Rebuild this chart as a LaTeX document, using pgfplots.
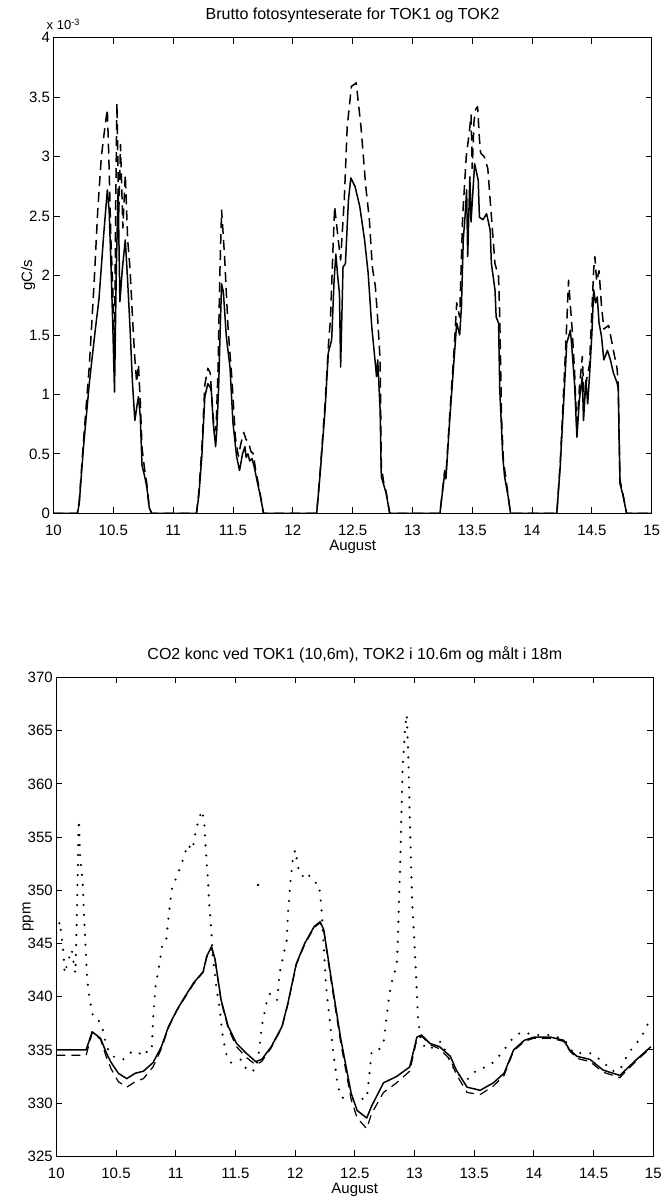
\documentclass[border=0pt]{standalone}
\usepackage{fontspec}
\setmainfont{Liberation Sans}
\usepackage{pgfplots}
\pgfplotsset{compat=1.18}
\begin{document}
\begin{tikzpicture}[x=1pt,y=1pt]
\path[use as bounding box] (0,0) rectangle (662,1197);
\pgfplotsset{
  myaxis/.style={
    scale only axis,
    anchor=south west,
    xmin=10, xmax=15,
    xtick={10,10.5,11,11.5,12,12.5,13,13.5,14,14.5,15},
    tick align=inside,
    major tick length=6pt,
    axis line style={line width=1pt},
    every tick/.style={black, line width=0.8pt},
    /pgf/number format/assume math mode=true,
    tick label style={font=\fontsize{15}{17}\selectfont},
    xticklabel style={anchor=base, yshift=-22.3pt},
    label style={font=\fontsize{15}{17}\selectfont},
    title style={font=\fontsize{16}{18}\selectfont, at={(0.5,1)}, anchor=base, yshift=12pt},
    xlabel style={at={(0.5,0)}, anchor=base, yshift=-37.5pt},
    xlabel={August},
    every axis plot/.append style={black, line join=round},
  }
}
% ---------------- top axis ----------------
\begin{axis}[myaxis, name=top,
  at={(53.5pt,683.7pt)}, width=598.2pt, height=475.6pt,
  ymin=0, ymax=4,
  ytick={0,0.5,1,1.5,2,2.5,3,3.5,4},
  title={Brutto fotosynteserate for TOK1 og TOK2},
  ylabel={gC/s},
  ylabel style={at={(axis description cs:-0.042,0.5)}, anchor=center},
]
\addplot[line width=1.5pt] coordinates {
(10,0)(10.20,0)(10.215,0.08)(10.25,0.55)(10.30,1.10)(10.35,1.55)(10.38,1.80)(10.42,2.35)(10.45,2.72)(10.465,2.55)(10.48,2.10)(10.495,1.60)(10.51,1.02)(10.525,2.05)(10.54,2.72)(10.555,1.78)(10.575,2.05)(10.60,2.30)(10.62,1.95)(10.64,1.55)(10.66,1.10)(10.68,0.78)(10.70,0.92)(10.71,0.98)(10.725,0.82)(10.74,0.40)(10.76,0.32)(10.78,0.22)(10.80,0.05)(10.82,0)
(11.195,0)(11.215,0.15)(11.24,0.48)(11.265,0.98)(11.29,1.09)(11.31,1.06)(11.32,1.02)(11.335,0.76)(11.355,0.56)(11.365,0.70)(11.38,1.05)(11.395,1.60)(11.405,1.93)(11.42,1.86)(11.445,1.48)(11.475,1.23)(11.50,0.76)(11.53,0.48)(11.555,0.36)(11.58,0.50)(11.60,0.56)(11.61,0.47)(11.625,0.50)(11.64,0.44)(11.66,0.46)(11.68,0.38)(11.70,0.28)(11.73,0.14)(11.755,0)
(12.20,0)(12.227,0.31)(12.27,0.87)(12.297,1.35)(12.325,1.46)(12.345,1.95)(12.36,2.18)(12.375,2.00)(12.39,1.85)(12.40,1.23)(12.42,2.07)(12.44,2.10)(12.465,2.63)(12.485,2.82)(12.52,2.75)(12.56,2.58)(12.60,2.30)(12.63,2.02)(12.66,1.57)(12.687,1.29)(12.70,1.15)(12.71,1.29)(12.73,0.87)(12.74,0.31)(12.76,0.24)(12.78,0.17)(12.81,0)
(13.23,0)(13.27,0.34)(13.28,0.29)(13.31,0.76)(13.35,1.32)(13.37,1.60)(13.395,1.50)(13.41,1.74)(13.425,2.30)(13.44,2.50)(13.453,2.72)(13.462,2.16)(13.48,2.83)(13.49,2.45)(13.505,2.70)(13.52,2.94)(13.55,2.80)(13.56,2.49)(13.59,2.47)(13.62,2.52)(13.65,2.38)(13.66,2.10)(13.69,1.88)(13.70,1.65)(13.72,1.60)(13.73,1.04)(13.755,0.48)(13.77,0.31)(13.80,0.14)(13.82,0)
(14.207,0)(14.235,0.39)(14.265,0.95)(14.29,1.43)(14.32,1.54)(14.33,1.43)(14.355,1.09)(14.375,0.64)(14.395,0.95)(14.42,1.15)(14.43,0.78)(14.45,1.12)(14.465,0.92)(14.48,1.15)(14.50,1.51)(14.515,1.88)(14.53,1.77)(14.545,1.82)(14.56,1.60)(14.58,1.49)(14.60,1.29)(14.63,1.37)(14.655,1.29)(14.68,1.18)(14.71,1.10)(14.72,1.05)(14.735,0.25)(14.76,0.15)(14.79,0)(15,0)
};
\addplot[line width=1.5pt, dash pattern=on 10pt off 6pt] coordinates {
(10,0)(10.20,0)(10.215,0.10)(10.25,0.60)(10.30,1.25)(10.34,1.95)(10.37,2.55)(10.40,3.00)(10.43,3.25)(10.45,3.40)(10.465,2.90)(10.48,2.30)(10.495,1.90)(10.51,1.35)(10.52,2.60)(10.53,3.45)(10.545,2.50)(10.56,3.10)(10.58,2.40)(10.60,2.85)(10.62,2.30)(10.64,2.05)(10.66,1.65)(10.68,1.30)(10.695,1.10)(10.71,1.25)(10.725,0.95)(10.74,0.55)(10.76,0.38)(10.78,0.25)(10.80,0.05)(10.82,0)
(11.195,0)(11.215,0.18)(11.24,0.55)(11.265,1.08)(11.29,1.22)(11.31,1.18)(11.325,0.95)(11.345,0.68)(11.36,0.75)(11.375,1.20)(11.39,2.00)(11.405,2.55)(11.43,2.16)(11.46,1.54)(11.49,1.15)(11.52,0.64)(11.545,0.48)(11.565,0.58)(11.59,0.68)(11.61,0.62)(11.63,0.60)(11.65,0.52)(11.67,0.50)(11.69,0.36)(11.71,0.26)(11.735,0.12)(11.755,0)
(12.20,0)(12.227,0.33)(12.27,0.92)(12.30,1.45)(12.315,1.63)(12.335,2.20)(12.35,2.58)(12.38,2.30)(12.40,2.13)(12.43,2.63)(12.455,3.25)(12.49,3.59)(12.53,3.62)(12.57,3.25)(12.61,2.75)(12.64,2.47)(12.665,2.07)(12.69,1.91)(12.71,1.63)(12.73,1.29)(12.74,0.40)(12.76,0.26)(12.78,0.18)(12.81,0)
(13.23,0)(13.27,0.36)(13.28,0.32)(13.31,0.80)(13.35,1.40)(13.37,1.77)(13.395,1.65)(13.42,2.50)(13.45,3.00)(13.475,3.20)(13.49,3.35)(13.50,2.90)(13.515,3.30)(13.53,3.40)(13.545,3.42)(13.56,3.15)(13.57,3.03)(13.60,3.00)(13.63,2.90)(13.66,2.50)(13.69,2.10)(13.72,1.99)(13.73,1.65)(13.745,0.80)(13.76,0.45)(13.78,0.30)(13.80,0.15)(13.82,0)
(14.207,0)(14.235,0.42)(14.265,1.05)(14.29,1.60)(14.305,1.96)(14.32,1.75)(14.335,1.55)(14.355,1.20)(14.375,0.70)(14.395,1.05)(14.42,1.32)(14.435,0.95)(14.46,1.15)(14.48,1.25)(14.50,1.70)(14.515,2.05)(14.525,2.16)(14.54,1.95)(14.56,2.04)(14.58,1.75)(14.60,1.55)(14.64,1.58)(14.68,1.37)(14.71,1.22)(14.72,1.10)(14.735,0.28)(14.76,0.16)(14.79,0)(15,0)
};
\end{axis}
\node[anchor=base west, inner sep=0pt, font=\fontsize{13}{15}\selectfont] at ([xshift=-7pt, yshift=8pt]top.north west) {x 10\textsuperscript{-3}};
% ---------------- bottom axis ----------------
\begin{axis}[myaxis,
  at={(56.3pt,40.7pt)}, width=597pt, height=478.8pt,
  ymin=325, ymax=370,
  ytick={325,330,335,340,345,350,355,360,365,370},
  title={CO2 konc ved TOK1 (10,6m), TOK2 i 10.6m og målt i 18m},
  ylabel={ppm},
  ylabel style={at={(axis description cs:-0.047,0.5)}, anchor=center},
]
\addplot[line width=1.5pt] coordinates {
(10.00,335.0)(10.25,335.0)(10.30,336.7)(10.37,336.1)(10.42,334.7)(10.46,333.8)(10.52,332.8)(10.59,332.3)(10.66,332.8)(10.73,333.0)(10.81,333.8)(10.88,335.3)(10.94,337.2)(11.01,338.75)(11.06,339.7)(11.15,341.3)(11.23,342.35)(11.26,343.8)(11.30,344.7)(11.33,343.5)(11.38,339.7)(11.44,337.2)(11.51,335.6)(11.59,334.7)(11.67,333.9)(11.72,334.1)(11.80,335.3)(11.89,337.2)(11.94,339.4)(12.01,343.1)(12.08,345.0)(12.16,346.6)(12.21,347.05)(12.24,346.3)(12.30,341.9)(12.38,336.2)(12.47,330.9)(12.52,329.3)(12.60,328.6)(12.64,329.7)(12.74,331.9)(12.85,332.5)(12.96,333.4)(13.02,336.2)(13.06,336.4)(13.13,335.6)(13.21,335.3)(13.30,334.4)(13.35,333.1)(13.44,331.5)(13.55,331.2)(13.66,331.9)(13.75,332.8)(13.83,335.0)(13.92,335.9)(14.00,336.2)(14.14,336.2)(14.25,335.9)(14.30,335.0)(14.36,334.4)(14.47,334.1)(14.58,333.1)(14.72,332.6)(14.86,334.1)(14.98,335.3)
};
\addplot[line width=1.2pt, dash pattern=on 9pt off 6pt] coordinates {
(10.00,334.5)(10.25,334.5)(10.30,336.6)(10.37,336.0)(10.42,334.3)(10.46,333.2)(10.52,332.0)(10.59,331.5)(10.66,332.0)(10.73,332.3)(10.81,333.4)(10.88,335.1)(10.94,337.1)(11.01,338.7)(11.06,339.6)(11.15,341.2)(11.23,342.3)(11.26,343.7)(11.30,344.6)(11.33,343.4)(11.38,339.6)(11.44,337.0)(11.51,335.3)(11.59,334.3)(11.67,333.6)(11.72,333.9)(11.80,335.2)(11.89,337.1)(11.94,339.3)(12.01,343.0)(12.08,344.9)(12.16,346.5)(12.21,346.95)(12.24,346.2)(12.30,341.6)(12.38,335.8)(12.47,330.3)(12.52,328.6)(12.60,327.6)(12.64,329.0)(12.74,331.0)(12.85,331.9)(12.96,333.0)(13.02,336.0)(13.06,336.3)(13.13,335.5)(13.21,335.1)(13.30,334.1)(13.35,332.7)(13.44,331.0)(13.55,330.8)(13.66,331.6)(13.75,332.6)(13.83,334.9)(13.92,335.8)(14.00,336.1)(14.14,336.1)(14.25,335.8)(14.30,334.9)(14.36,334.2)(14.47,333.9)(14.58,332.9)(14.72,332.4)(14.86,334.0)(14.98,335.2)
};
\addplot[line width=2.4pt, line cap=round, dash pattern=on 0pt off 10pt] coordinates {
(10.00,346.0)(10.03,347.05)(10.06,344.1)(10.07,342.2)(10.10,343.4)(10.13,344.4)(10.15,342.8)(10.16,342.2)(10.17,346.6)(10.18,351.9)(10.185,355.4)(10.19,356.6)(10.20,352.9)(10.22,351.0)(10.23,348.2)(10.25,343.4)(10.26,341.5)(10.28,339.7)(10.31,338.0)(10.36,337.7)(10.39,336.9)(10.42,335.3)(10.47,334.4)(10.56,334.1)(10.61,334.7)(10.67,334.9)(10.73,334.4)(10.77,335.0)(10.80,335.0)(10.81,337.8)(10.83,340.9)(10.86,342.8)(10.89,345.0)(10.92,345.3)(10.94,347.5)(10.97,350.3)(11.01,351.3)(11.06,352.85)(11.10,354.3)(11.14,353.8)(11.17,355.7)(11.20,356.9)(11.22,357.5)(11.24,356.3)(11.25,354.1)(11.27,351.0)(11.28,348.8)(11.30,346.0)(11.31,343.8)(11.34,340.9)(11.37,338.75)(11.39,336.6)(11.42,334.7)(11.46,333.8)(11.55,334.1)(11.60,333.0)(11.67,333.1)(11.70,335.0)(11.72,337.2)(11.76,339.4)(11.79,340.3)(11.85,339.7)(11.87,342.2)(11.90,343.8)(11.93,345.3)(11.94,347.8)(11.96,350.7)(11.98,352.85)(12.00,353.8)(12.03,351.9)(12.06,351.3)(12.10,351.7)(12.15,350.8)(12.20,350.6)(12.22,348.5)(12.24,344.7)(12.26,340.9)(12.29,337.8)(12.32,334.7)(12.35,332.2)(12.38,330.6)(12.42,330.4)(12.49,330.4)(12.52,330.4)(12.60,330.4)(12.62,332.5)(12.64,334.7)(12.68,334.7)(12.74,335.6)(12.76,337.5)(12.79,340.3)(12.82,341.9)(12.85,342.8)(12.86,345.0)(12.87,349.1)(12.88,352.2)(12.89,356.9)(12.90,361.3)(12.92,365.0)(12.935,366.5)(12.95,362.0)(12.96,357.0)(12.97,352.85)(12.98,349.1)(13.00,345.0)(13.02,340.3)(13.03,337.8)(13.06,335.6)(13.12,335.0)(13.22,335.8)(13.29,334.1)(13.35,332.8)(13.44,332.2)(13.52,333.1)(13.60,333.4)(13.67,333.9)(13.75,335.0)(13.83,336.2)(13.90,336.7)(14.00,336.4)(14.08,336.4)(14.15,336.4)(14.26,335.9)(14.33,334.7)(14.41,334.7)(14.47,334.7)(14.58,333.9)(14.65,333.0)(14.72,333.1)(14.79,334.7)(14.85,335.5)(14.90,336.2)(14.97,337.8)
};
\addplot[only marks, mark=*, mark size=1.1pt] coordinates {(11.69,350.5)};
\end{axis}
\end{tikzpicture}
\end{document}
